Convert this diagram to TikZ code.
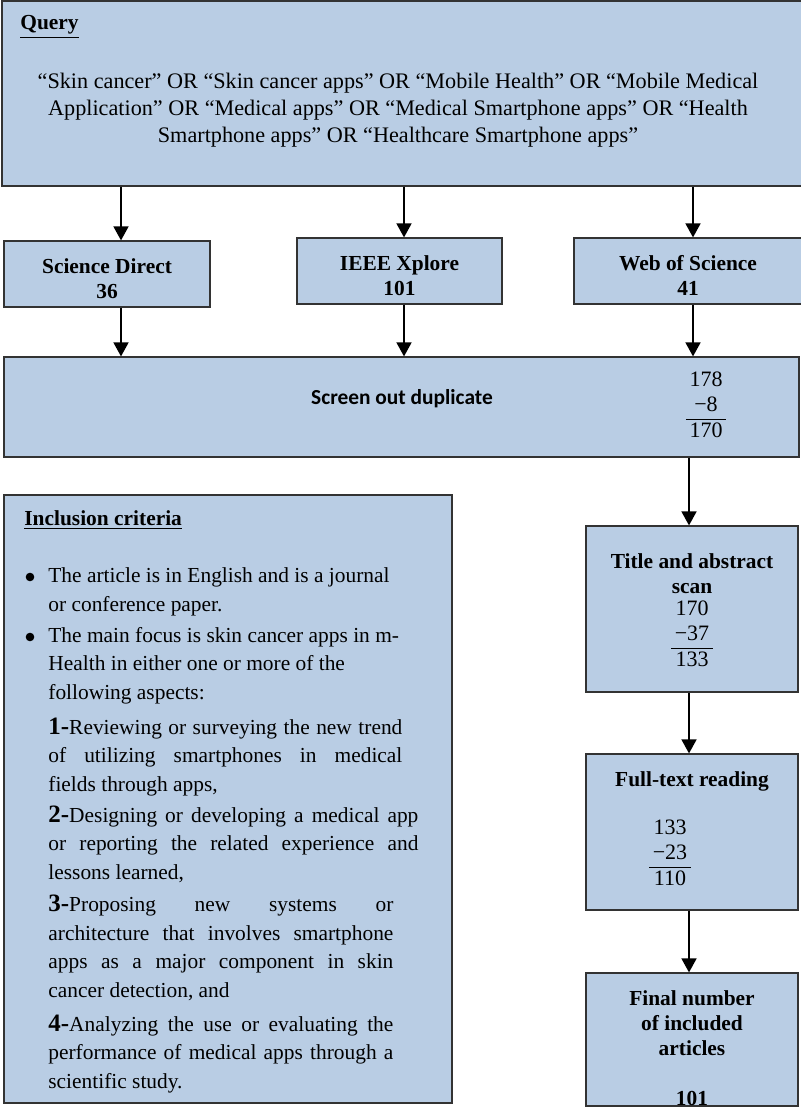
\documentclass[tikz,border=0pt]{standalone}
\usepackage{fontspec}
\setmainfont{Liberation Serif}
\newfontfamily\calibri{Carlito}
\usetikzlibrary{arrows.meta}
\definecolor{boxblue}{RGB}{185,205,228}
\newcommand{\subtr}[3]{{\setlength{\arrayrulewidth}{0.9pt}\begin{tabular}{@{\,}c@{\,}}#1\\#2\\\hline #3\end{tabular}}}
\newcommand{\jline}[2]{\makebox[#1][s]{#2}}
\newcommand{\itemno}[1]{{\fontsize{12.5}{14}\selectfont\bfseries #1-}}
\begin{document}
\begin{tikzpicture}[x=0.5pt,y=-0.5pt,
  box/.style={draw=black!80, line width=0.6pt, fill=boxblue, inner sep=0pt},
  arr/.style={-{Triangle[length=7pt,width=7.5pt]}, line width=0.8pt},
  txt/.style={font=\fontsize{10.7}{12.5}\selectfont},
  bold/.style={font=\fontsize{10.7}{12.5}\selectfont\bfseries, align=center},
  num/.style={font=\fontsize{11}{12.5}\selectfont, inner sep=0pt},
  dot/.style={circle, fill=black, inner sep=0pt, minimum size=4.3pt},
  para/.style={anchor=base west, inner sep=0pt, align=left, font=\fontsize{10.7}{14.2}\selectfont}]

    \useasboundingbox (0,0) rectangle (800,1107);

    %Query (right edge runs off the page)
    \node[box, minimum width=407pt, minimum height=92.5pt] (query) at (409,93.5) {};
    \node[anchor=base west, inner sep=0pt, bold] (qlabel) at (20,30) {\underline{Query}};
    \node[align=center, font=\fontsize{11.1}{13.6}\selectfont] (qtext) at (398,110)
      {“Skin cancer” OR “Skin cancer apps” OR “Mobile Health” OR “Mobile Medical\\
       Application” OR “Medical apps” OR “Medical Smartphone apps” OR “Health\\
       Smartphone apps” OR “Healthcare Smartphone apps”};

    %Databases
    \node[box, minimum width=103pt, minimum height=33pt] (sd) at (107,274) {};
    \node[bold] (sdtxt) at (107,279) {Science Direct\\36};
    \node[box, minimum width=102.5pt, minimum height=33pt] (ieee) at (399.5,271) {};
    \node[bold] (ieeetxt) at (399.5,276) {IEEE Xplore\\101};
    \node[box, minimum width=121pt, minimum height=33pt] (wos) at (695,271) {};
    \node[bold] (wostxt) at (688,275) {Web of Science\\41};

    %Screen out duplicate
    \node[box, minimum width=397.5pt, minimum height=50pt] (screen) at (401.5,407) {};
    \node[font=\calibri\fontsize{10.7}{12.5}\selectfont\bfseries] (stext) at (402,399) {Screen out duplicate};
    \node[num] (snum) at (706,407) {\subtr{178}{−8}{170}};

    \coordinate (a1) at (121,0);
    \coordinate (a2) at (404,0);
    \coordinate (a3) at (693,0);
    \coordinate (a4) at (689,0);
    \draw[arr] (query.south -| a1) -- (sd.north -| a1);
    \draw[arr] (query.south -| a2) -- (ieee.north -| a2);
    \draw[arr] (query.south -| a3) -- (wos.north -| a3);
    \draw[arr] (sd.south -| a1) -- (screen.north -| a1);
    \draw[arr] (ieee.south -| a2) -- (screen.north -| a2);
    \draw[arr] (wos.south -| a3) -- (screen.north -| a3);

    %Right column
    \node[box, minimum width=106pt, minimum height=83pt] (title) at (692,609) {};
    \node[bold] (titlehd) at (692,574) {Title and abstract\\scan};
    \node[num] (titlenum) at (692,636) {\subtr{170}{−37}{133}};

    \node[box, minimum width=106pt, minimum height=78pt] (full) at (692,832) {};
    \node[bold] (fullhd) at (692,781) {Full-text reading};
    \node[num] (fullnum) at (670,855) {\subtr{133}{−23}{110}};

    \node[box, minimum width=106pt, minimum height=66.5pt] (final) at (692,1039.5) {};
    \node[bold] (finaltxt) at (692,1048) {Final number\\of included\\articles\\[12.5pt]101};

    \draw[arr] (screen.south -| a4) -- (title.north -| a4);
    \draw[arr] (title.south -| a4) -- (full.north -| a4);
    \draw[arr] (full.south -| a4) -- (final.north -| a4);

    %Inclusion criteria
    \node[box, minimum width=224pt, minimum height=304pt] (incl) at (228,799) {};
    \node[anchor=base west, inner sep=0pt, bold] (ilabel) at (24,525) {\underline{Inclusion criteria}};

    %base anchor = last line
    \node[dot] (b1) at (30,577) {};
    \node[para] (c1) at (48,611) {The article is in English and is a journal\\or conference paper.};
    \node[dot] (b2) at (30,637) {};
    \node[para] (c2) at (48,699) {The main focus is skin cancer apps in m-\\Health in either one or more of the\\following aspects:};

    \node[para] (p1) at (48,791) {\jline{177pt}{\itemno{1}Reviewing or surveying the new trend}\\
      \jline{177pt}{of utilizing smartphones in medical}\\fields through apps,};
    \node[para] (p2) at (48,879) {\jline{185pt}{\itemno{2}Designing or developing a medical app}\\
      \jline{185pt}{or reporting the related experience and}\\lessons learned,};
    \node[para] (p3) at (48,997) {\jline{172.5pt}{\itemno{3}Proposing new systems or}\\
      \jline{172.5pt}{architecture that involves smartphone}\\
      \jline{172.5pt}{apps as a major component in skin}\\cancer detection, and};
    \node[para] (p4) at (48,1088) {\jline{172.5pt}{\itemno{4}Analyzing the use or evaluating the}\\
      \jline{172.5pt}{performance of medical apps through a}\\scientific study.};

\end{tikzpicture}
\end{document}
